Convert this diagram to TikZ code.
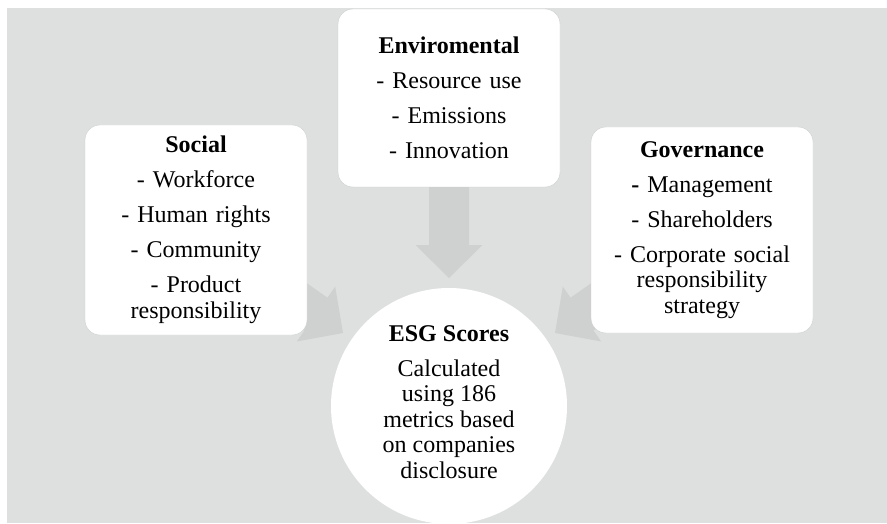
\documentclass[tikz,border=0pt]{standalone}
\usepackage{fontspec}
\setmainfont{Liberation Serif}
\usetikzlibrary{calc,backgrounds}

\definecolor{bggray}{RGB}{222,223,223}
\definecolor{arrowgray}{RGB}{207,208,208}
\definecolor{edgegray}{RGB}{206,207,207}

% block arrow from node #1 to tip coordinate #2
\newcommand\blockarrow[2]{%
  \fill[arrowgray] let \p1=($(#2)!33pt!(#1)$) in
    ($(#1)!20pt!90:(#2)$) -- ($(\p1)!20pt!90:(#2)$) -- ($(\p1)!33.5pt!90:(#2)$)
    -- (#2)
    -- ($(\p1)!33.5pt!-90:(#2)$) -- ($(\p1)!20pt!-90:(#2)$) -- ($(#1)!20pt!-90:(#2)$) -- cycle;}

\begin{document}
\begin{tikzpicture}[x=1pt, y=-1pt,
                    node font=\fontsize{24}{25.5}\selectfont,
                    catbox/.style={draw=edgegray, fill=white, rounded corners=15pt,
                                   text width=200pt, inner xsep=11pt, align=center},
                    scorecircle/.style={circle, fill=white, minimum size=236pt, inner sep=0pt}]
                \useasboundingbox (0,0) rectangle (887,524);
                \begin{scope}[on background layer]
                    \fill[bggray] (7,8) rectangle (887,523);
                \end{scope}

                \node (env) [catbox, minimum height=178pt] at (449,98)
                    {\textbf{Enviromental}\\[9.5pt]- Resource use\\[9.5pt]- Emissions\\[9.5pt]- Innovation};
                \node (soc) [catbox, minimum height=210pt] at (196,230)
                    {\textbf{Social}\\[9.5pt]- Workforce\\[9.5pt]- Human rights\\[9.5pt]- Community\\[9.5pt]- Product\\responsibility};
                \node (gov) [catbox, minimum height=206pt] at (702,230)
                    {\textbf{Governance}\\[9.5pt]{\bfseries -} Management\\[9.5pt]- Shareholders\\[9.5pt]- Corporate social\\responsibility\\strategy};
                \node (esg) [scorecircle] at (449,406) {};
                \node (esgtext) [align=center] at (449,402)
                    {\textbf{ESG Scores}\\[9.5pt]Calculated\\using 186\\metrics based\\on companies\\disclosure};

                \coordinate (envtip) at (449,278);
                \coordinate (soctip) at (343,333);
                \coordinate (govtip) at (555,333);

                \begin{scope}[on background layer]
                    \blockarrow{env.center}{envtip}
                    \blockarrow{soc.center}{soctip}
                    \blockarrow{gov.center}{govtip}
                \end{scope}
            \end{tikzpicture}
\end{document}
